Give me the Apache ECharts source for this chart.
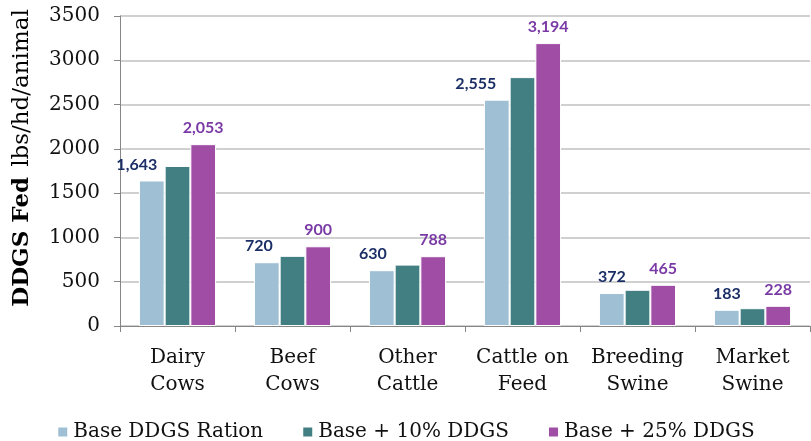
<!DOCTYPE html>
<html>
<head>
<meta charset="utf-8">
<script src="https://cdn.jsdelivr.net/npm/echarts@6/dist/echarts.min.js"></script>
<style>
  html, body { margin: 0; padding: 0; background: #fff; }
  #chart { width: 811px; height: 441px; }
</style>
</head>
<body>
<div id="chart"></div>
<script>
// Annual DDGS fed per animal (lbs/hd/animal) by livestock class and ration scenario
const categories = ['Dairy\nCows', 'Beef\nCows', 'Other\nCattle', 'Cattle on\nFeed', 'Breeding\nSwine', 'Market\nSwine'];
const seriesNames = ['Base DDGS Ration', 'Base + 10% DDGS', 'Base + 25% DDGS'];
const baseRation = [1643, 720, 630, 2555, 372, 183];
const plus10 = [1807, 792, 693, 2810, 409, 201];
const plus25 = [2053, 900, 788, 3194, 465, 228];
const yTicks = [0, 500, 1000, 1500, 2000, 2500, 3000, 3500];

// horizontal nudges for the base-ration value labels
const baseLabelShift = [-15, -8, -9, -21, 0, 0];

const serif = 'DejaVu Serif';
const labelFont = 'Lato';

const chart = echarts.init(document.getElementById('chart'), null, { renderer: 'canvas' });

function labelled(values, color, shifts) {
  return values.map((v, i) => ({
    value: v,
    label: {
      show: true,
      position: 'top',
      distance: 8,
      offset: [shifts ? shifts[i] : 0, 0],
      color: color,
      fontFamily: labelFont,
      fontWeight: 'bold',
      fontSize: 16,
      formatter: p => p.value.toLocaleString('en-US')
    }
  }));
}

const barStyle = (c) => ({ color: c, borderColor: '#ffffff', borderWidth: 1 });

chart.setOption({
  animation: false,
  backgroundColor: '#ffffff',
  grid: { left: 120, right: 1, top: 16, bottom: 115 },
  legend: {
    top: 417,
    left: 'center',
    itemWidth: 11,
    itemHeight: 11,
    itemGap: 38,
    icon: 'rect',
    textStyle: { fontFamily: serif, fontSize: 20, color: '#111' },
    data: seriesNames
  },
  graphic: [{
    type: 'text',
    x: 22,
    y: 158,
    rotation: Math.PI / 2,
    style: {
      text: '{b|DDGS Fed}   {n|lbs/hd/animal}',
      align: 'center',
      verticalAlign: 'middle',
      rich: {
        b: { fontFamily: serif, fontWeight: 'bold', fontSize: 23, fill: '#000' },
        n: { fontFamily: serif, fontSize: 23, fill: '#000' }
      }
    }
  }],
  xAxis: {
    type: 'category',
    data: categories,
    axisLine: { lineStyle: { color: '#868686', width: 1 } },
    axisTick: { show: true, length: 6, lineStyle: { color: '#868686' } },
    axisLabel: {
      fontFamily: serif, fontSize: 20, color: '#111',
      lineHeight: 27, margin: 18, interval: 0
    }
  },
  yAxis: {
    type: 'value',
    min: yTicks[0],
    max: yTicks[yTicks.length - 1],
    interval: 500,
    axisLine: { show: true, lineStyle: { color: '#868686', width: 1 } },
    axisTick: { show: true, length: 6, lineStyle: { color: '#868686' } },
    axisLabel: { fontFamily: serif, fontSize: 20, color: '#111', margin: 20, formatter: v => String(v) },
    splitLine: { lineStyle: { color: '#c0c0c0', width: 1.5 } }
  },
  series: [
    {
      name: seriesNames[0], type: 'bar', barWidth: 25.7, barGap: '0%',
      itemStyle: barStyle('#9fbfd4'),
      data: labelled(baseRation, '#1b2f66', baseLabelShift)
    },
    {
      name: seriesNames[1], type: 'bar', barWidth: 25.7, barGap: '0%',
      itemStyle: barStyle('#427f83'),
      data: plus10
    },
    {
      name: seriesNames[2], type: 'bar', barWidth: 25.7, barGap: '0%',
      itemStyle: barStyle('#a04da5'),
      data: labelled(plus25, '#7a3aa6', null)
    }
  ]
});
</script>
</body>
</html>
